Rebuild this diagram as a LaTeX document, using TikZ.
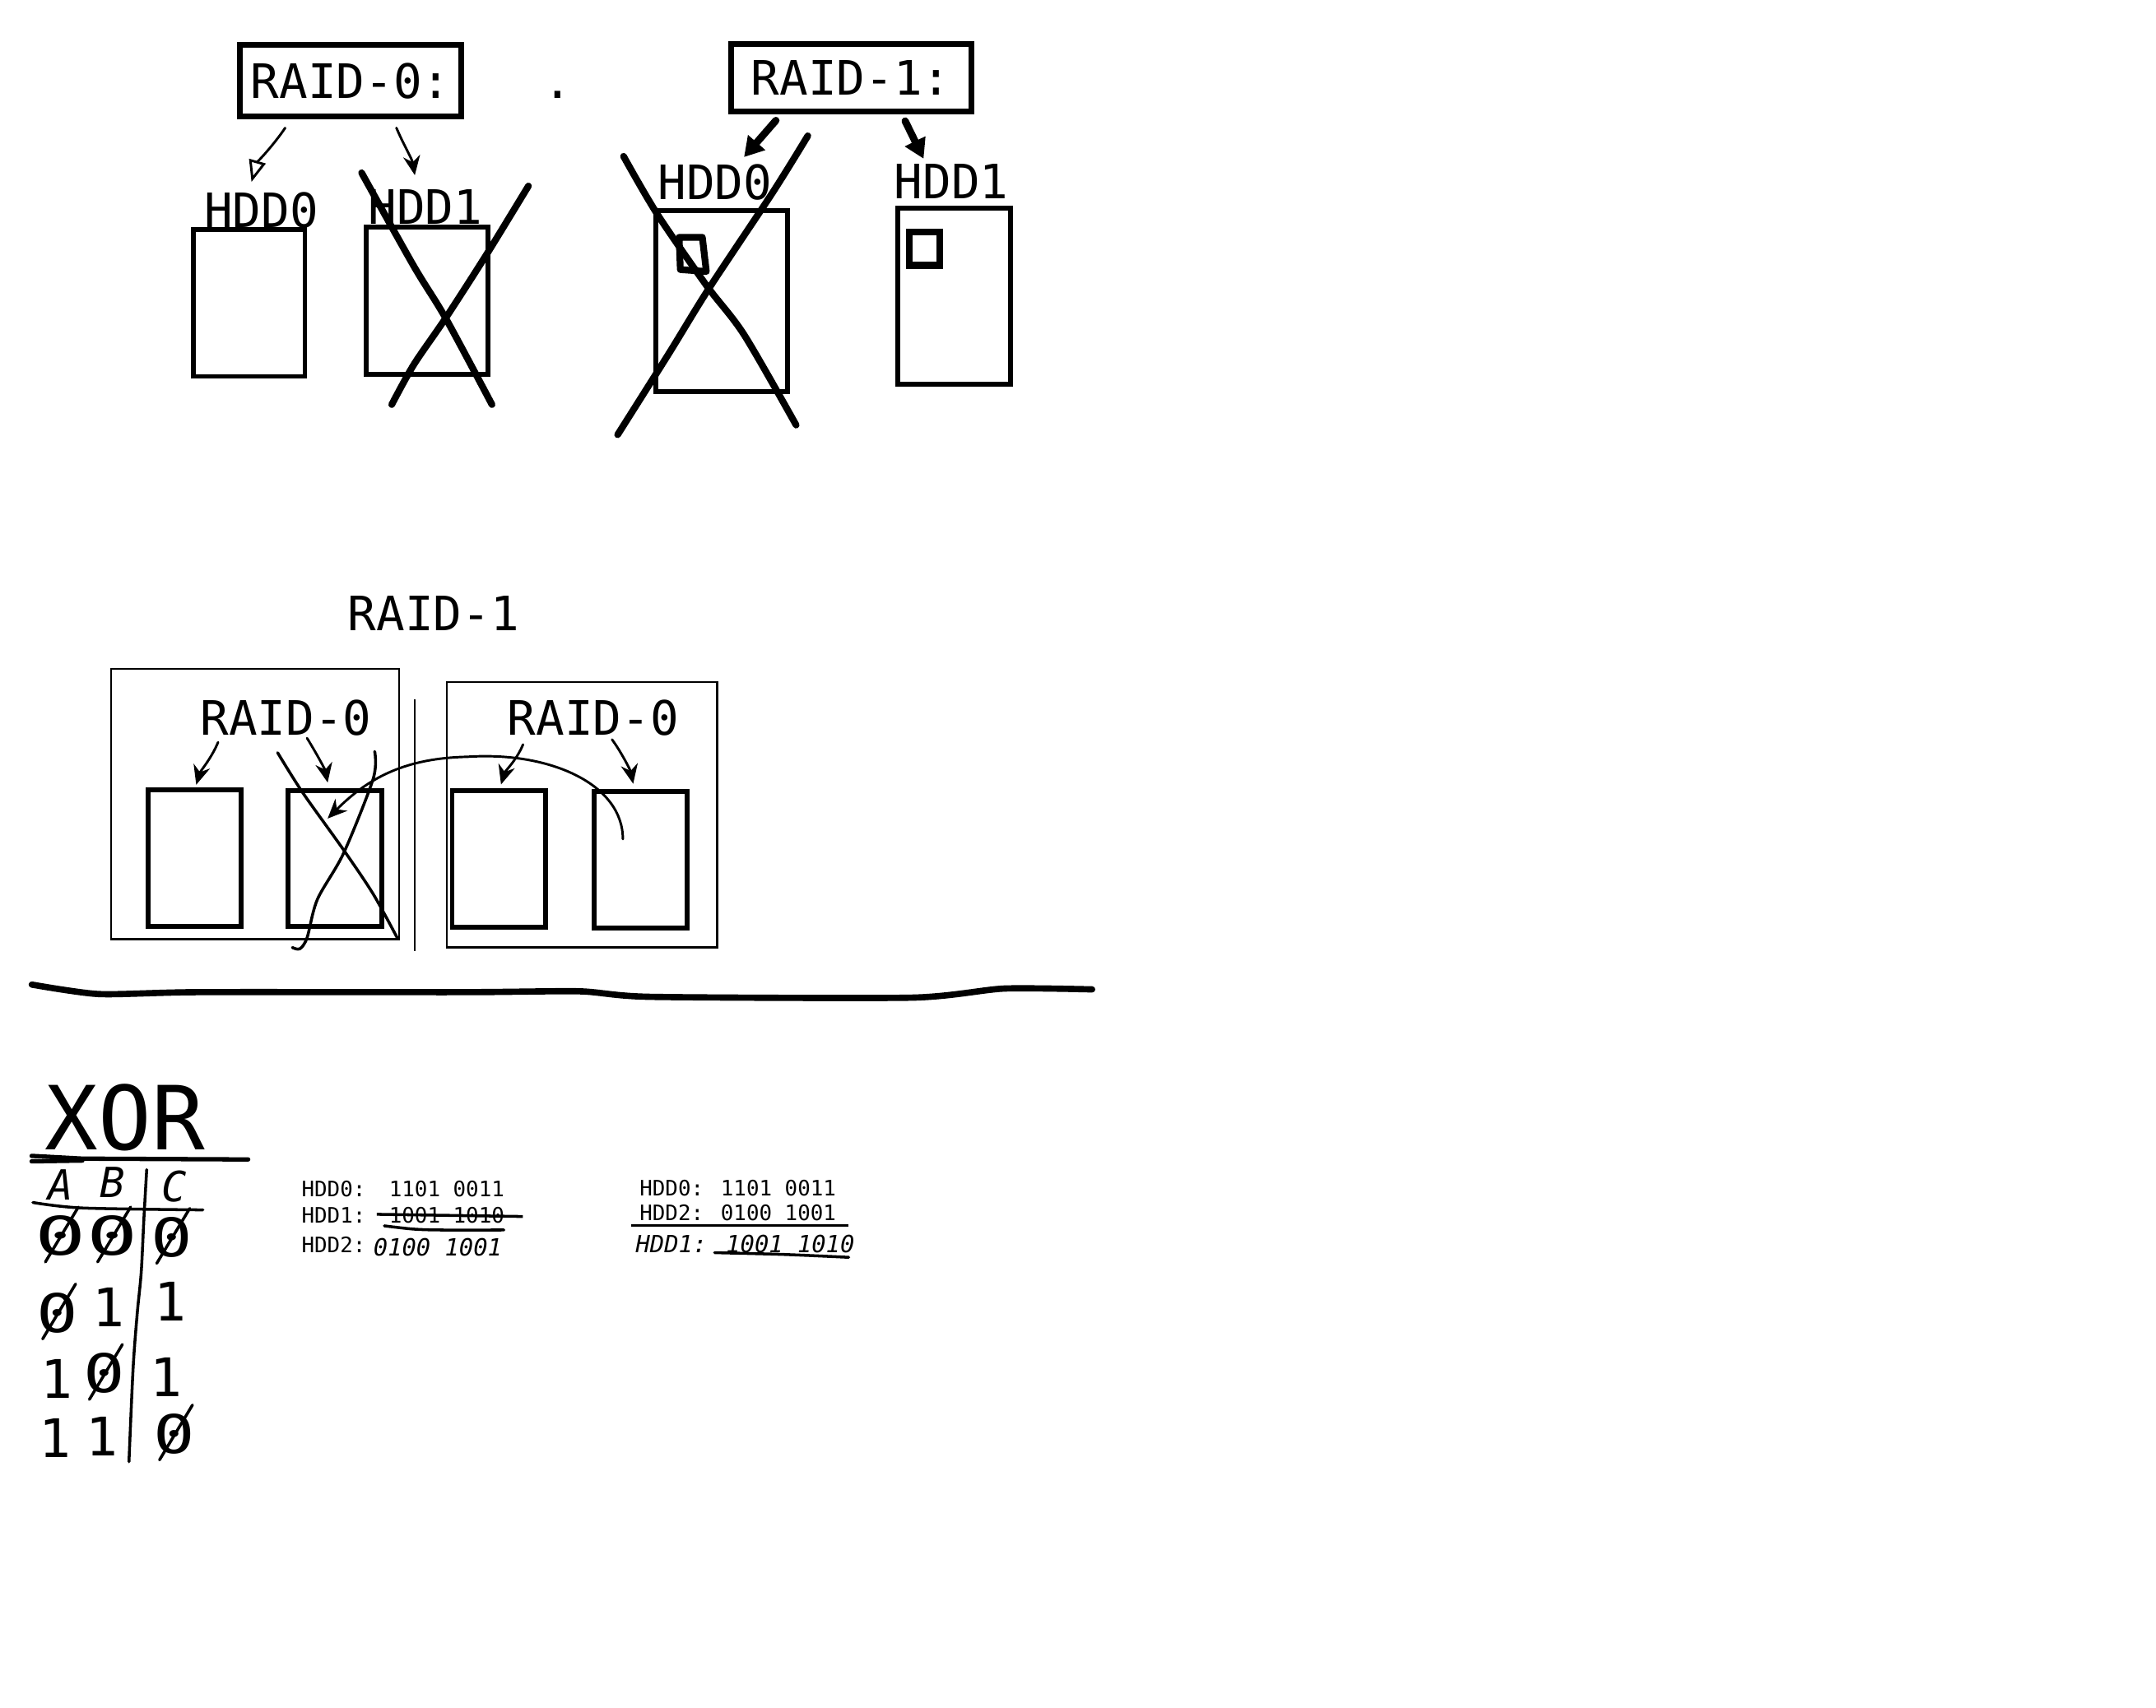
\documentclass[tikz,border=0pt]{standalone}
\usepackage{fontspec}
\usepackage{graphicx}
\newfontfamily\sketchmono{DejaVu Sans Mono}
\usetikzlibrary{arrows.meta,positioning}

\begin{document}
\begin{tikzpicture}[
      x=0.01cm, y=-0.01cm,
      title_style/.style={font=\sketchmono\fontsize{9.8}{11}\selectfont, inner sep=0pt},
      frame_style/.style={title_style, draw, line width=1.2pt},
      disk_style/.style={draw, line width=1pt, inner sep=0pt},
      small_disk/.style={disk_style, minimum width=0.68cm, minimum height=0.99cm},
      group_style/.style={draw, line width=0.4pt, inner sep=0pt},
      cross_style/.style={line width=1.4pt, line cap=round, line join=round},
      scrawl_style/.style={line width=0.6pt, line cap=round, line join=round},
      thin_arrow/.style={line width=0.5pt, line cap=round, -{Stealth[length=4pt, width=3.5pt]}},
      open_arrow/.style={line width=0.5pt, line cap=round, -{Triangle[open, length=4.5pt, width=3.5pt]}},
      thick_arrow/.style={line width=1.5pt, line cap=round, -{Triangle[length=4pt, width=4.5pt]}},
      data_style/.style={font=\sketchmono\fontsize{4.4}{5}\selectfont, inner sep=0pt, anchor=west},
      hand_style/.style={font=\sketchmono\itshape\fontsize{4.9}{5.5}\selectfont, inner sep=0pt, anchor=west},
      head_style/.style={font=\sketchmono\itshape\fontsize{8.6}{9}\selectfont, inner sep=0pt},
      digit_style/.style={font=\sketchmono\fontsize{11}{12}\selectfont, inner sep=0pt}
  ]

      \useasboundingbox (0,0) rectangle (1568,1242);

      \node[frame_style, minimum width=1.61cm, minimum height=0.52cm] (raid0_lbl) at (255,58.9) {RAID-0:};
      \node[title_style] (dot_lbl) at (405.4,68.8) {.};
      \node[frame_style, minimum width=1.745cm, minimum height=0.49cm] (raid1_lbl) at (619,56.8) {RAID-1:};

      \node[title_style] (t_hdd0_lbl) at (190,153) {HDD0};
      \node[disk_style, minimum width=0.81cm, minimum height=1.065cm] (t_hdd0) at (181.2,220.5) {};
      \node[title_style] (t_hdd1_lbl) at (309.4,150.6) {HDD1};
      \node[disk_style, minimum width=0.885cm, minimum height=1.073cm] (t_hdd1) at (310.5,218.6) {};
      \node[title_style] (m_hdd0_lbl) at (520,132.3) {HDD0};
      \node[disk_style, minimum width=0.957cm, minimum height=1.317cm] (m_hdd0) at (524.8,218.9) {};
      \node[title_style] (m_hdd1_lbl) at (692,132) {HDD1};
      \node[disk_style, minimum width=0.822cm, minimum height=1.281cm] (m_hdd1) at (693.9,215.6) {};
      \node[draw, line width=1.4pt, inner sep=0pt, minimum width=0.22cm, minimum height=0.24cm] (m_blk1) at (672.3,181) {};
      \draw[line width=1.4pt, line join=round] (493.9,172.6) -- (510.8,172.6) -- (513.7,197.5) -- (494.8,196.1) -- cycle;

      \draw[open_arrow] ([shift={(-47.6,6)}]raid0_lbl.south) .. controls +(-8,12) and +(4,-14) .. ([shift={(-7.1,-6.9)}]t_hdd0_lbl.north);
      \draw[thin_arrow] ([shift={(33.3,6)}]raid0_lbl.south) .. controls +(6,14) and +(-2,-12) .. ([shift={(-7.7,-9.9)}]t_hdd1_lbl.north);
      \draw[thick_arrow] ([shift={(-54.7,4.2)}]raid1_lbl.south) -- ([shift={(21.1,-4.3)}]m_hdd0_lbl.north);
      \draw[thick_arrow] ([shift={(39.3,4.6)}]raid1_lbl.south) -- ([shift={(-20.3,-3.3)}]m_hdd1_lbl.north);

      \draw[cross_style] plot[smooth] coordinates {(263,125.7) (300.9,193.5) (324.1,231.4) (357.8,294.3)};
      \draw[cross_style] plot[smooth] coordinates {(384.3,135.3) (353.6,185.5) (324.1,231.4) (300.9,265.3) (284.9,294.3)};
      \draw[cross_style] plot[smooth] coordinates {(453.5,113.7) (477.9,155.6) (513.7,207.5) (541.1,243.4) (579,309.2)};
      \draw[cross_style] plot[smooth] coordinates {(587.5,98.8) (562.2,139.6) (515.8,209.5) (486.3,257.4) (449.2,316.2)};

      \node[title_style] (raid10_lbl) at (315.3,446.3) {RAID-1};
      \node[group_style, minimum width=2.091cm, minimum height=1.963cm] (l_group) at (185.5,584.9) {};
      \node[group_style, minimum width=1.965cm, minimum height=1.93cm] (r_group) at (423.2,592.5) {};
      \draw[line width=0.4pt] (301.8,508.7) -- (301.8,691.8);
      \node[title_style] (l_raid0_lbl) at (207.9,522.2) {RAID-0};
      \node[title_style] (r_raid0_lbl) at (431.5,522.2) {RAID-0};
      \node[small_disk] (l_disk0) at (141.5,624.1) {};
      \node[small_disk] (l_disk1) at (243.6,624.5) {};
      \node[small_disk] (r_disk0) at (362.9,624.9) {};
      \node[small_disk] (r_disk1) at (465.9,625.4) {};

      \draw[thin_arrow] ([shift={(-49.3,4)}]l_raid0_lbl.south) .. controls +(-5,12) and +(3,-10) .. ([shift={(1.2,-2)}]l_disk0.north);
      \draw[thin_arrow] ([shift={(15.4,1)}]l_raid0_lbl.south) .. controls +(5,8) and +(-2,-10) .. ([shift={(-5.3,-4)}]l_disk1.north);
      \draw[thin_arrow] ([shift={(-51.1,5.6)}]r_raid0_lbl.south) .. controls +(-5,12) and +(3,-10) .. ([shift={(1.5,-3)}]r_disk0.north);
      \draw[thin_arrow] ([shift={(13.6,2)}]r_raid0_lbl.south) .. controls +(6,8) and +(-2,-10) .. ([shift={(-5.4,-4)}]r_disk1.north);
      \draw[thin_arrow] ([shift={(-12.9,-15)}]r_disk1.center) .. controls +(0,-40) and +(60,-4) .. (340,550.5) .. controls +(-45,1) and +(30,-30) .. ([shift={(-5.3,-29.1)}]l_disk1.center);

      \draw[scrawl_style] plot[smooth] coordinates {(201.9,547.5) (220.1,576.5) (250,618.4) (271.4,650.3) (288.9,682.2)};
      \draw[scrawl_style] plot[smooth] coordinates {(272.5,546.6) (271.4,566.5) (250,620.4) (230.8,654.3) (223.3,682.2) (218,690.2) (212.6,689.2)};

      \draw[line width=1.3pt, line cap=round] plot[smooth, tension=0.4] coordinates {(23.1,716.2) (72,723.1) (144,721.7) (339.3,721.7) (421.6,721.1) (473,725.1) (663.2,725.7) (730,719.1) (794.3,719.7)};

      \node[font=\sketchmono\fontsize{18.3}{20}\selectfont, inner sep=0pt] (xor_lbl) at (91,813) {XOR};
      \draw[line width=0.9pt, line cap=round] (23,840.8) -- (59.9,842.8) -- (180.5,843.4);
      \draw[line width=0.9pt, line cap=round] (23,844.8) -- (59.9,844.2);
      \node[head_style] (col_a) at (44,862) {A};
      \node[head_style] (col_b) at (82,860) {B};
      \node[head_style] (col_c) at (127,863) {C};
      \draw[line width=0.6pt, line cap=round] plot[smooth] coordinates {(106.7,850.8) (104.7,885.7) (102.7,925.6) (99.8,955.5) (96.8,995.4) (93.8,1063.3)};
      \draw[line width=0.6pt, line cap=round] plot[smooth] coordinates {(23.9,874.7) (59.9,878.7) (147.6,880.1)};

      \node[digit_style] (a_1) at (44,899) {\scalebox{1.6}[1]{0}};
      \node[digit_style] (b_1) at (82,899) {\scalebox{1.6}[1]{0}};
      \node[digit_style] (c_1) at (125,900) {\scalebox{1.3}[1]{0}};
      \node[digit_style] (a_2) at (42,955) {\scalebox{1.3}[1]{0}};
      \node[digit_style] (b_2) at (79,951) {1};
      \node[digit_style] (c_2) at (124,947) {1};
      \node[digit_style] (a_3) at (41,1003) {1};
      \node[digit_style] (b_3) at (76,999) {\scalebox{1.3}[1]{0}};
      \node[digit_style] (c_3) at (121,1002) {1};
      \node[digit_style] (a_4) at (40,1046) {1};
      \node[digit_style] (b_4) at (74,1045) {1};
      \node[digit_style] (c_4) at (127,1043) {\scalebox{1.3}[1]{0}};
      \foreach \z in {a_1,b_1,c_1,a_2,b_3,c_4}
        \draw[scrawl_style] ([shift={(-11,19)}]\z.center) -- ([shift={(13,-21)}]\z.center);

      \node[data_style] (l_hdd0_bits) at (218.7,864.8) {HDD0:\hspace{1.3pt} 1101 0011};
      \node[data_style] (l_hdd1_bits) at (218.7,884) {HDD1:\hspace{1.3pt} 1001 1010};
      \draw[line width=0.6pt] (274,883.3) -- (380.3,884.9);
      \draw[line width=0.6pt, line cap=round] plot[smooth] coordinates {(279.5,891.7) (300,894) (319.5,894.7) (366.5,894.7)};
      \node[data_style] (l_hdd2_name) at (218.7,905.6) {HDD2:};
      \node[hand_style] (l_hdd2_bits) at (271,907) {0100 1001};

      \node[data_style] (r_hdd0_bits) at (464.5,864.2) {HDD0: 1101 0011};
      \node[data_style] (r_hdd2_bits) at (464.5,882.2) {HDD2: 0100 1001};
      \draw[line width=0.6pt] (459,891.3) -- (617.3,891.3);
      \node[hand_style] (r_hdd1_bits) at (461.7,905) {HDD1: 1001 1010};
      \draw[line width=0.6pt, line cap=round] plot[smooth] coordinates {(519.7,911.2) (570,912.5) (617.3,914.6)};
  \end{tikzpicture}
\end{document}
